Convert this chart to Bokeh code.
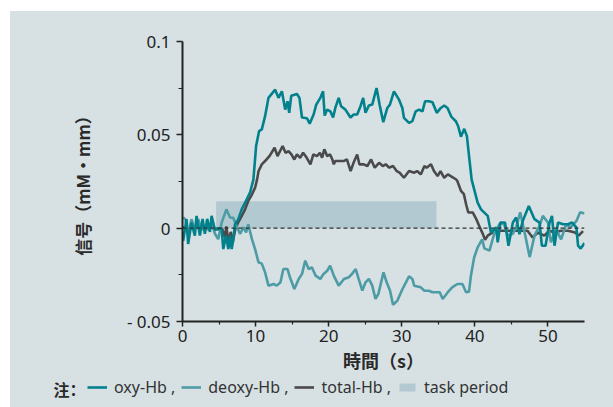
from bokeh.plotting import figure
from bokeh.layouts import column
from bokeh.models import Range1d, FixedTicker, Legend, LegendItem, Span, Title, Label
from bokeh.embed import file_html
from bokeh.resources import INLINE

# ---------------- data ----------------
oxy_t = [0.09, 0.55, 0.77, 1.23, 1.69, 1.92, 2.38, 2.75, 3.06, 3.38, 3.75, 3.98, 4.44, 4.89, 5.36, 5.58,
         5.95, 6.27, 6.5, 6.73, 6.95, 7.18, 7.64, 8.1, 8.79, 9.24, 9.7, 10.07, 10.48, 10.85, 11.3, 11.76,
         12.68, 13.13, 13.6, 14.05, 14.37, 14.6, 14.88, 15.66, 16.0, 16.35, 17.03, 17.4, 17.94, 18.3,
         18.86, 19.23, 19.45, 19.78, 20.23, 20.6, 20.92, 21.37, 21.7, 22.29, 22.98, 23.43, 23.9, 24.35,
         24.72, 25.04, 25.5, 25.96, 26.55, 26.96, 27.47, 28.02, 28.38, 28.93, 29.6, 30.08, 30.3, 30.99,
         31.45, 31.9, 32.36, 32.83, 33.19, 33.74, 34.2, 34.79, 35.34, 35.8, 36.26, 36.8, 37.4, 37.72,
         38.09, 38.55, 38.91, 39.23, 39.56, 40.38, 40.84, 41.76, 42.2, 42.9, 43.13, 43.5, 44.13, 44.6,
         45.2, 45.65, 46.1, 46.56, 47.38, 48.16, 48.85, 49.17, 49.67, 50.22, 50.55, 50.9, 51.37, 52.06,
         52.75, 53.3, 53.89, 54.12, 54.48, 55.0]
oxy_v = [-0.0068, 0.0048, -0.0085, 0.003, -0.004, 0.0066, -0.004, 0.005, -0.003, 0.005, -0.002, 0.0066,
         -0.001, 0.0, -0.0005, -0.0112, -0.004, -0.0112, -0.004, -0.0112, -0.006, 0.002, 0.0048, 0.0101,
         0.0155, 0.019, 0.026, 0.044, 0.052, 0.0529, 0.060, 0.0698, 0.0742, 0.0698, 0.0733, 0.0635, 0.068,
         0.0618, 0.071, 0.0719, 0.0698, 0.0593, 0.0589, 0.056, 0.0609, 0.0662, 0.0698, 0.0733, 0.0603,
         0.0635, 0.0626, 0.0593, 0.0646, 0.0698, 0.0653, 0.0635, 0.0593, 0.0609, 0.0609, 0.0653, 0.0698,
         0.0618, 0.0657, 0.0662, 0.0751, 0.0662, 0.0568, 0.0644, 0.0662, 0.0733, 0.069, 0.0644, 0.0591,
         0.0564, 0.0573, 0.0626, 0.0635, 0.0626, 0.068, 0.068, 0.0675, 0.0618, 0.0644, 0.0657, 0.0644,
         0.0596, 0.0573, 0.0546, 0.049, 0.0532, 0.0493, 0.0377, 0.026, 0.0137, 0.0101, 0.0066, -0.0023,
         0.0004, -0.0076, 0.003, 0.003, -0.0094, 0.003, 0.0057, -0.0032, 0.0039, 0.0119, 0.0048, 0.003,
         -0.0094, -0.0094, 0.003, 0.0066, -0.0094, 0.003, 0.0021, 0.0021, 0.003, 0.0004, -0.0094, -0.0109,
         -0.008]

deoxy_t = [0.09, 0.4, 0.77, 1.23, 1.69, 2.15, 2.6, 3.06, 3.5, 3.98, 4.44, 4.89, 5.36, 6.0, 6.5, 6.95,
           7.4, 7.87, 8.33, 8.7, 9.0, 9.5, 9.93, 10.4, 10.85, 11.3, 11.76, 12.45, 12.9, 13.4, 13.8, 14.37,
           14.7, 15.3, 15.9, 16.35, 16.8, 17.25, 17.7, 18.2, 18.86, 19.3, 19.8, 20.2, 20.7, 21.37, 22.1,
           22.75, 23.2, 23.7, 24.1, 24.6, 25.04, 25.5, 25.96, 26.4, 26.8, 27.5, 27.93, 28.4, 28.8, 29.4,
           30.1, 31.0, 31.45, 31.7, 32.6, 33.1, 33.7, 34.2, 34.7, 35.2, 35.6, 36.3, 36.9, 37.6, 38.3,
           38.8, 39.2, 39.46, 39.9, 40.38, 41.0, 41.3, 42.0, 42.7, 43.5, 44.0, 44.5, 45.2, 45.65, 46.2,
           46.9, 47.5, 48.16, 48.85, 49.3, 50.0, 50.4, 51.1, 51.8, 52.5, 53.1, 53.9, 54.4, 55.0]
deoxy_v = [0.0057, 0.0048, -0.0032, 0.0048, -0.0005, 0.0048, -0.001, 0.0012, -0.001, 0.003, -0.003,
           -0.0059, 0.003, 0.0101, 0.0057, 0.0055, 0.0012, -0.003, 0.0004, -0.0023, 0.002, -0.0059,
           -0.0112, -0.0183, -0.019, -0.0237, -0.0308, -0.0299, -0.0308, -0.029, -0.0219, -0.0219,
           -0.0263, -0.0326, -0.0272, -0.0245, -0.0174, -0.0219, -0.021, -0.0254, -0.0272, -0.0245,
           -0.0228, -0.0201, -0.0254, -0.0308, -0.0272, -0.0263, -0.0245, -0.0219, -0.0272, -0.0334,
           -0.029, -0.0272, -0.0308, -0.0379, -0.0352, -0.0237, -0.029, -0.0335, -0.041, -0.0388,
           -0.0326, -0.0258, -0.0272, -0.0308, -0.0317, -0.0335, -0.0335, -0.0343, -0.0343, -0.0343,
           -0.0379, -0.0343, -0.0317, -0.0299, -0.0299, -0.0343, -0.034, -0.0255, -0.0157, -0.0103,
           -0.006, -0.0108, -0.012, -0.0023, 0.003, 0.0021, -0.004, -0.003, 0.0004, 0.0085, -0.004,
           -0.0155, -0.004, 0.0012, 0.0066, 0.003, -0.0076, -0.0005, -0.006, 0.0021, 0.0004, 0.0039,
           0.0085, 0.0079]

total_t = [0.0, 1.0, 2.0, 3.0, 4.0, 4.9, 5.4, 5.8, 6.0, 6.3, 6.6, 6.9, 7.2, 7.6, 8.1, 8.56, 9.0, 9.5,
           9.93, 10.2, 10.4, 10.85, 11.5, 11.9, 12.6, 13.0, 13.7, 14.1, 14.5, 14.9, 15.3, 15.66, 16.1,
           16.5, 17.0, 17.5, 17.9, 18.4, 18.8, 19.1, 19.4, 19.8, 20.2, 20.5, 20.7, 20.9, 22.1, 22.5, 23.0,
           23.4, 23.9, 24.2, 24.8, 25.3, 25.8, 26.3, 26.9, 27.4, 27.8, 28.3, 28.8, 29.3, 29.7, 30.3,
           31.0, 31.7, 32.1, 32.6, 33.1, 33.4, 34.0, 34.4, 34.9, 35.3, 35.8, 36.3, 36.7, 37.4, 37.6,
           38.1, 38.5, 38.8, 39.1, 39.7, 40.2, 40.6, 41.1, 41.4, 41.76, 42.7, 43.6, 44.5, 45.4, 46.3,
           47.2, 47.9, 48.6, 49.5, 50.2, 50.9, 51.8, 52.75, 53.7, 54.2, 54.8]
total_v = [0.0005, -0.0005, 0.0008, -0.0003, 0.0006, -0.0008, 0.0, -0.005, 0.001, -0.008, -0.002,
           -0.007, -0.001, 0.003, 0.0065, 0.0101, 0.0146, 0.018, 0.0217, 0.026, 0.0305, 0.0342, 0.0368,
           0.0386, 0.0431, 0.0386, 0.044, 0.0404, 0.0413, 0.0395, 0.0368, 0.0395, 0.0377, 0.0404,
           0.0377, 0.0342, 0.0395, 0.0386, 0.0404, 0.0377, 0.0422, 0.0386, 0.0395, 0.0368, 0.0342,
           0.036, 0.036, 0.0368, 0.0306, 0.035, 0.0395, 0.0342, 0.0342, 0.0333, 0.0368, 0.0324, 0.035,
           0.0333, 0.0342, 0.0324, 0.0333, 0.0306, 0.0297, 0.027, 0.0306, 0.0297, 0.0306, 0.0288,
           0.0333, 0.0324, 0.0342, 0.0306, 0.0279, 0.0306, 0.027, 0.0288, 0.0279, 0.0262, 0.0253, 0.02,
           0.0182, 0.0128, 0.0084, 0.0084, 0.0048, 0.0012, -0.0032, -0.0062, -0.004, -0.0016, -0.0014,
           -0.0014, -0.0014, -0.0014, -0.0014, -0.005, -0.0023, -0.004, -0.0014, -0.0023, -0.0014,
           -0.0014, -0.0023, -0.004, -0.0016]

task_start = [4.6]
task_end = [34.75]
task_bottom = [0.0]
task_top = [0.0144]

x_ticks = [0, 10, 20, 30, 40, 50]
x_minor = [5, 15, 25, 35, 45]
y_ticks = [-0.05, 0, 0.05, 0.1]
y_minor = [-0.025, 0.025, 0.075]
y_tick_labels = {-0.05: "- 0.05", 0: "0", 0.05: "0.05", 0.1: "0.1"}

x_title = "時間（s）"
y_title = "信号（mM·mm）"
legend_title = "注："
series_labels = ["oxy-Hb ,", "deoxy-Hb ,", "total-Hb ,", "task period"]

# ---------------- style ----------------
BG = "#d7e1e3"
C_OXY = "#00818c"
C_DEOXY = "#4d9ba5"
C_TOTAL = "#4a4a4b"
C_TASK = "#b2c9d1"
C_AX = "#222222"
C_TXT = "#2a2a2a"
FONT = "Noto Sans"
CJK = "Noto Sans CJK SC"
LW = 2.6

# ---------------- main chart ----------------
p = figure(width=603, height=361, x_range=Range1d(0, 55), y_range=Range1d(-0.05, 0.1),
           output_backend="svg", toolbar_location=None,
           min_border_left=172, min_border_right=29, min_border_top=30, min_border_bottom=50,
           background_fill_color=BG, border_fill_color=BG, outline_line_color=None)
p.grid.visible = False

p.quad(left=task_start, right=task_end, bottom=task_bottom, top=task_top,
       fill_color=C_TASK, line_color=None)
p.add_layout(Span(location=0, dimension="width", line_color="#333333", line_width=1.2,
                  line_dash="4 3"))
p.line(total_t, total_v, line_color=C_TOTAL, line_width=LW)
p.line(deoxy_t, deoxy_v, line_color=C_DEOXY, line_width=LW)
p.line(oxy_t, oxy_v, line_color=C_OXY, line_width=LW)

for ax in (p.xaxis[0], p.yaxis[0]):
    ax.axis_line_color = C_AX
    ax.axis_line_width = 2
    ax.major_tick_line_color = C_AX
    ax.minor_tick_line_color = C_AX
    ax.major_tick_line_width = 1.5
    ax.minor_tick_line_width = 1.2
    ax.major_tick_in = 0
    ax.minor_tick_in = 0
    ax.major_label_text_font = FONT
    ax.major_label_text_font_size = "17px"
    ax.major_label_text_color = C_AX

p.xaxis.ticker = FixedTicker(ticks=x_ticks, minor_ticks=x_minor)
p.xaxis.major_tick_out = 5
p.xaxis.minor_tick_out = 3
p.xaxis.major_label_standoff = 3

p.yaxis.ticker = FixedTicker(ticks=y_ticks, minor_ticks=y_minor)
p.yaxis.major_label_overrides = y_tick_labels
p.yaxis.major_tick_out = 6
p.yaxis.minor_tick_out = 4
p.yaxis.major_label_standoff = 6

p.add_layout(Title(text=y_title, align="center", offset=-11, standoff=57,
                   text_font=CJK, text_font_style="bold", text_font_size="17px",
                   text_color=C_TXT), "left")
p.add_layout(Title(text=x_title, align="center", offset=-11, standoff=0,
                   text_font=CJK, text_font_style="bold", text_font_size="18px",
                   text_color=C_TXT), "below")

# ---------------- legend strip ----------------
# the legend strip re-uses the same series; its y range lies outside the data,
# so only the legend swatches show.
q = figure(width=603, height=35, x_range=Range1d(0, 55), y_range=Range1d(1, 2),
           output_backend="svg", toolbar_location=None,
           x_axis_location=None, y_axis_location=None,
           min_border_left=0, min_border_right=0, min_border_top=0, min_border_bottom=0,
           background_fill_color=BG, border_fill_color=BG, outline_line_color=None)
if "frame_align" in q.properties():
    q.frame_align = False
    p.frame_align = False
q.grid.visible = False

g_oxy = q.line(oxy_t, oxy_v, line_color=C_OXY, line_width=LW)
g_deoxy = q.line(deoxy_t, deoxy_v, line_color=C_DEOXY, line_width=LW)
g_total = q.line(total_t, total_v, line_color=C_TOTAL, line_width=LW)
g_task = q.quad(left=task_start, right=task_end, bottom=task_bottom, top=task_top,
                fill_color=C_TASK, line_color=None)

q.add_layout(Label(x=43, y=19, x_units="screen", y_units="screen", text=legend_title,
                   text_align="left", text_baseline="middle",
                   text_font=CJK, text_font_style="bold", text_font_size="16px",
                   text_color=C_TXT))
legend = Legend(items=[LegendItem(label=series_labels[0], renderers=[g_oxy]),
                       LegendItem(label=series_labels[1], renderers=[g_deoxy]),
                       LegendItem(label=series_labels[2], renderers=[g_total]),
                       LegendItem(label=series_labels[3], renderers=[g_task])],
                orientation="horizontal", location=(77, 9),
                padding=0, margin=0, spacing=6, glyph_width=20, glyph_height=10,
                label_standoff=7, label_height=20,
                label_text_font=FONT, label_text_font_size="16px", label_text_color="#333333",
                background_fill_alpha=0, border_line_alpha=0)
q.add_layout(legend)

layout = column(p, q, spacing=0)
layout.margin = (11, 0, 0, 10)
layout.styles = {"background-color": BG}

open("out.html", "w").write(file_html(layout, INLINE))
